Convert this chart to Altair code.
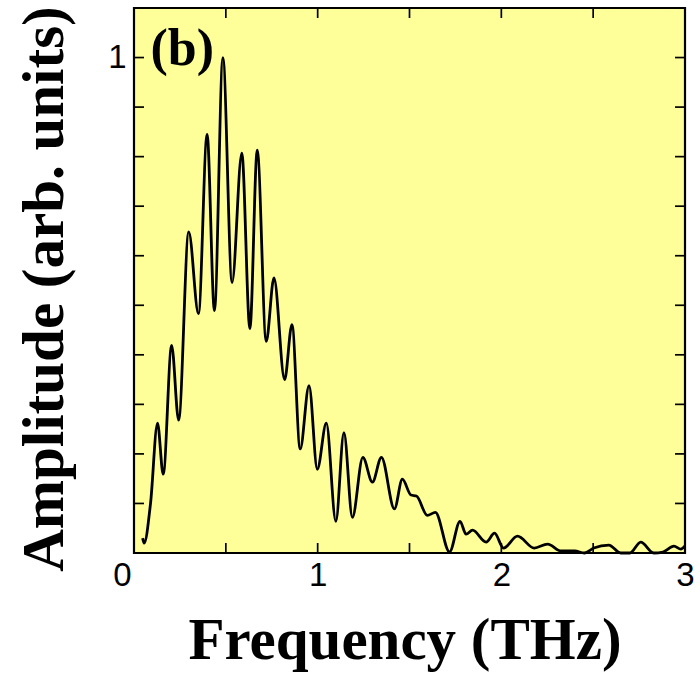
import altair as alt
import pandas as pd

# Spectrum (frequency in THz, amplitude arb. units)
freq = [0.047, 0.055, 0.090, 0.128, 0.159, 0.205, 0.243, 0.298, 0.351, 0.398,
        0.438, 0.484, 0.534, 0.587, 0.631, 0.671, 0.720, 0.762, 0.820, 0.860,
        0.905, 0.953, 0.998, 1.047, 1.099, 1.143, 1.189, 1.246, 1.298, 1.347,
        1.418, 1.461, 1.508, 1.538, 1.597, 1.641, 1.718, 1.775, 1.808, 1.843,
        1.917, 1.963, 2.012, 2.088, 2.179, 2.252, 2.326, 2.400, 2.452, 2.503,
        2.585, 2.650, 2.700, 2.759, 2.830, 2.880, 2.940, 2.977, 3.000]
amp = [0.030, 0.020, 0.100, 0.262, 0.159, 0.419, 0.268, 0.648, 0.483, 0.845,
       0.489, 1.000, 0.546, 0.807, 0.453, 0.813, 0.427, 0.555, 0.350, 0.461,
       0.210, 0.338, 0.169, 0.262, 0.064, 0.243, 0.072, 0.193, 0.143, 0.193,
       0.089, 0.149, 0.117, 0.115, 0.076, 0.082, 0.002, 0.064, 0.038, 0.046,
       0.022, 0.040, 0.010, 0.034, 0.010, 0.018, 0.004, 0.004, 0.000, 0.010,
       0.016, 0.000, 0.000, 0.022, 0.000, 0.002, 0.014, 0.008, 0.014]

x_labels = [0, 1, 2, 3]
y_labels = [1]
x_ticks = [0.5, 1.0, 1.5, 2.0, 2.5]
y_ticks = [0.1, 0.2, 0.3, 0.4, 0.5, 0.6, 0.7, 0.8, 0.9, 1.0]
panel_label = "(b)"

W, H = 551, 545
TL = 10  # inward tick length

df = pd.DataFrame({"f": freq, "a": amp})
xt = pd.DataFrame({"t": x_ticks})
yt = pd.DataFrame({"t": y_ticks})

xscale = alt.Scale(domain=[0, 3], nice=False, zero=False)
yscale = alt.Scale(domain=[0, 1.1], nice=False, zero=False)

serif = "Liberation Serif"
sans = "Liberation Sans"

line = alt.Chart(df).mark_line(color="black", strokeWidth=2.8, interpolate="monotone").encode(
    x=alt.X("f:Q", scale=xscale,
            axis=alt.Axis(values=x_labels, format="d", ticks=False, domain=False, grid=False,
                          labelFlush=False,
                          labelOffset={"condition": {"test": "datum.value == 0", "value": -12},
                                       "value": 0},
                          labelFont=sans, labelFontSize=33, labelColor="black", labelPadding=6,
                          title="Frequency (THz)", titleFont=serif, titleFontWeight="bold",
                          titleFontSize=59, titleColor="black", titleX=W / 2 - 5, titleY=105,
                          titleAlign="center", titleBaseline="alphabetic")),
    y=alt.Y("a:Q", scale=yscale,
            axis=alt.Axis(values=y_labels, format="d", ticks=False, domain=False, grid=False,
                          labelFont=sans, labelFontSize=33, labelColor="black", labelPadding=8,
                          title="Amplitude (arb. units)", titleFont=serif, titleFontWeight="bold",
                          titleFontSize=59, titleColor="black", titleX=-72, titleY=H / 2 + 8,
                          titleAngle=270, titleAlign="center", titleBaseline="alphabetic")),
)

tick_style = dict(color="black", strokeWidth=1.7)
bottom = alt.Chart(xt).mark_rule(**tick_style).encode(
    x=alt.X("t:Q", scale=xscale), y=alt.value(H), y2=alt.value(H - TL))
top = alt.Chart(xt).mark_rule(**tick_style).encode(
    x=alt.X("t:Q", scale=xscale), y=alt.value(0), y2=alt.value(TL))
left = alt.Chart(yt).mark_rule(**tick_style).encode(
    y=alt.Y("t:Q", scale=yscale), x=alt.value(0), x2=alt.value(TL))
right = alt.Chart(yt).mark_rule(**tick_style).encode(
    y=alt.Y("t:Q", scale=yscale), x=alt.value(W), x2=alt.value(W - TL))

label = alt.Chart(pd.DataFrame({"s": [panel_label], "x": [0.09], "y": [0.984]})).mark_text(
    font=serif, fontWeight="bold", fontSize=52, align="left", baseline="alphabetic", color="black"
).encode(x=alt.X("x:Q", scale=xscale), y=alt.Y("y:Q", scale=yscale), text="s:N")

chart = alt.layer(line, bottom, top, left, right, label).properties(
    width=W, height=H,
    autosize=alt.AutoSizeParams(type="none"),
    padding={"left": 134, "top": 8, "right": 15, "bottom": 121},
    background="white",
).configure_view(fill="#ffff99", stroke="black", strokeWidth=2.2)

chart.save("out.html", embed_options={"renderer": "svg", "actions": False})
